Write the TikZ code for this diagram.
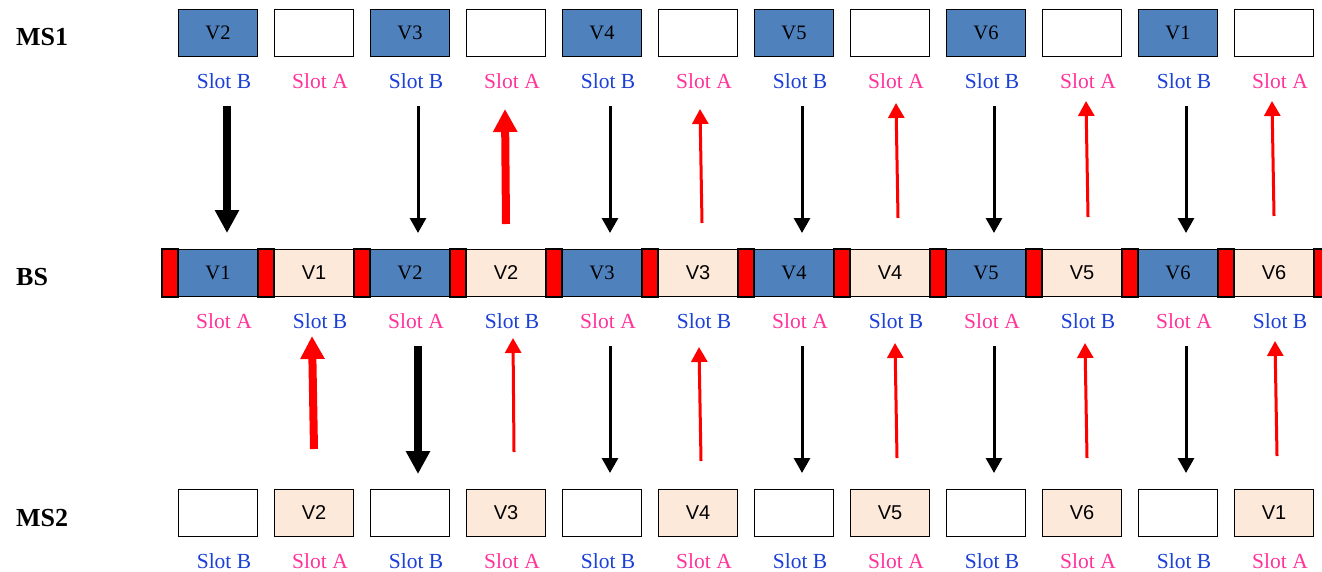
\documentclass[tikz,border=0pt]{standalone}
\usepackage{fontspec}
\setmainfont{Liberation Serif}
\newfontfamily\arialf{Liberation Sans}
\usetikzlibrary{arrows.meta}
\definecolor{boxblue}{HTML}{4F81BD}
\definecolor{boxpale}{HTML}{FDE9D9}
\definecolor{slotpink}{HTML}{FF3399}
\definecolor{slotblue}{HTML}{1A3FD6}
\tikzset{
  box/.style={draw=black, line width=1.6pt, minimum width=79pt, minimum height=47pt, inner sep=0pt},
  bluebox/.style={box, fill=boxblue, font=\fontsize{20.5}{22}\selectfont},
  palebox/.style={box, fill=boxpale, font=\arialf\fontsize{20}{22}\selectfont},
  whitebox/.style={box, fill=white},
  slotA/.style={anchor=base, inner sep=0pt, text=slotpink, font=\fontsize{21.5}{23}\selectfont},
  slotB/.style={anchor=base, inner sep=0pt, text=slotblue, font=\fontsize{21.5}{23}\selectfont},
  rowlabel/.style={anchor=base west, inner sep=0pt, font=\bfseries\fontsize{26}{28}\selectfont},
  redbar/.style={draw=black, line width=1.6pt, fill=red},
  downthin/.style={draw=black, line width=3pt, -{Triangle[width=16pt,length=15pt]}},
  downthick/.style={draw=black, line width=8pt, -{Triangle[width=23pt,length=23pt]}},
  upthin/.style={draw=red, line width=3pt, -{Triangle[width=16pt,length=15pt]}},
  upthick/.style={draw=red, line width=8pt, -{Triangle[width=23pt,length=23pt]}}
}
\begin{document}
\begin{tikzpicture}[x=1pt,y=-1pt]
\useasboundingbox (0,0) rectangle (1322,571);

% row labels
\node[rowlabel] (lms1) at (16,45) {MS1};
\node[rowlabel] (lbs) at (16,285) {BS};
\node[rowlabel] (lms2) at (16,526) {MS2};

% MS1 row
\foreach \k/\v in {0/V2,1/V3,2/V4,3/V5,4/V6,5/V1}{
  \node[bluebox] (ma\k) at ({218+192*\k},33) {\v};
  \node[whitebox] (mb\k) at ({314+192*\k},33) {};
  \node[slotB] (sma\k) at ({224+192*\k},88) {Slot B};
  \node[slotA] (smb\k) at ({320+192*\k},88) {Slot A};
}

% BS strip red bars
\foreach \i in {0,...,11}{
  \draw[redbar] ({162+96*\i},249) rectangle ({178+96*\i},297);
}
\fill[red] (1314,249) rectangle (1323,297);
\draw[line width=1.6pt] (1323,249) -- (1314,249) -- (1314,297) -- (1323,297);

% BS row
\foreach \k/\v in {0/V1,1/V2,2/V3,3/V4,4/V5,5/V6}{
  \node[bluebox] (ba\k) at ({218+192*\k},273) {\v};
  \node[palebox] (bb\k) at ({314+192*\k},273) {\v};
  \node[slotA] (sba\k) at ({224+192*\k},328) {Slot A};
  \node[slotB] (sbb\k) at ({320+192*\k},328) {Slot B};
}

% MS2 row
\foreach \k/\v in {0/V2,1/V3,2/V4,3/V5,4/V6,5/V1}{
  \node[whitebox] (ca\k) at ({218+192*\k},513) {};
  \node[palebox] (cb\k) at ({314+192*\k},513) {\v};
  \node[slotB] (sca\k) at ({224+192*\k},568) {Slot B};
  \node[slotA] (scb\k) at ({320+192*\k},568) {Slot A};
}

% upper arrows (MS1 <-> BS)
\coordinate (u1s) at (227,106);  \coordinate (u1e) at (227,233);
\coordinate (u2s) at (418,106);  \coordinate (u2e) at (418,233);
\coordinate (u3s) at (506,224);  \coordinate (u3e) at (505,109);
\coordinate (u4s) at (610,106);  \coordinate (u4e) at (610,233);
\coordinate (u5s) at (702,223);  \coordinate (u5e) at (700,109);
\coordinate (u6s) at (802,106);  \coordinate (u6e) at (802,233);
\coordinate (u7s) at (898,218);  \coordinate (u7e) at (896,103);
\coordinate (u8s) at (994,106);  \coordinate (u8e) at (994,233);
\coordinate (u9s) at (1088,217); \coordinate (u9e) at (1086,101);
\coordinate (u10s) at (1186,106); \coordinate (u10e) at (1186,233);
\coordinate (u11s) at (1274,216); \coordinate (u11e) at (1272,101);
\draw[downthick] (u1s) -- (u1e);
\draw[downthin] (u2s) -- (u2e);
\draw[upthick] (u3s) -- (u3e);
\draw[downthin] (u4s) -- (u4e);
\draw[upthin] (u5s) -- (u5e);
\draw[downthin] (u6s) -- (u6e);
\draw[upthin] (u7s) -- (u7e);
\draw[downthin] (u8s) -- (u8e);
\draw[upthin] (u9s) -- (u9e);
\draw[downthin] (u10s) -- (u10e);
\draw[upthin] (u11s) -- (u11e);

% lower arrows (BS <-> MS2)
\coordinate (l1s) at (314,449);  \coordinate (l1e) at (312,336);
\coordinate (l2s) at (418,346);  \coordinate (l2e) at (418,474);
\coordinate (l3s) at (514,452);  \coordinate (l3e) at (513,338);
\coordinate (l4s) at (610,346);  \coordinate (l4e) at (610,473);
\coordinate (l5s) at (701,461);  \coordinate (l5e) at (699,347);
\coordinate (l6s) at (802,346);  \coordinate (l6e) at (802,473);
\coordinate (l7s) at (897,458);  \coordinate (l7e) at (895,343);
\coordinate (l8s) at (994,346);  \coordinate (l8e) at (994,473);
\coordinate (l9s) at (1087,458); \coordinate (l9e) at (1085,343);
\coordinate (l10s) at (1186,346); \coordinate (l10e) at (1186,473);
\coordinate (l11s) at (1277,456); \coordinate (l11e) at (1275,341);
\draw[upthick] (l1s) -- (l1e);
\draw[downthick] (l2s) -- (l2e);
\draw[upthin] (l3s) -- (l3e);
\draw[downthin] (l4s) -- (l4e);
\draw[upthin] (l5s) -- (l5e);
\draw[downthin] (l6s) -- (l6e);
\draw[upthin] (l7s) -- (l7e);
\draw[downthin] (l8s) -- (l8e);
\draw[upthin] (l9s) -- (l9e);
\draw[downthin] (l10s) -- (l10e);
\draw[upthin] (l11s) -- (l11e);
\end{tikzpicture}
\end{document}
